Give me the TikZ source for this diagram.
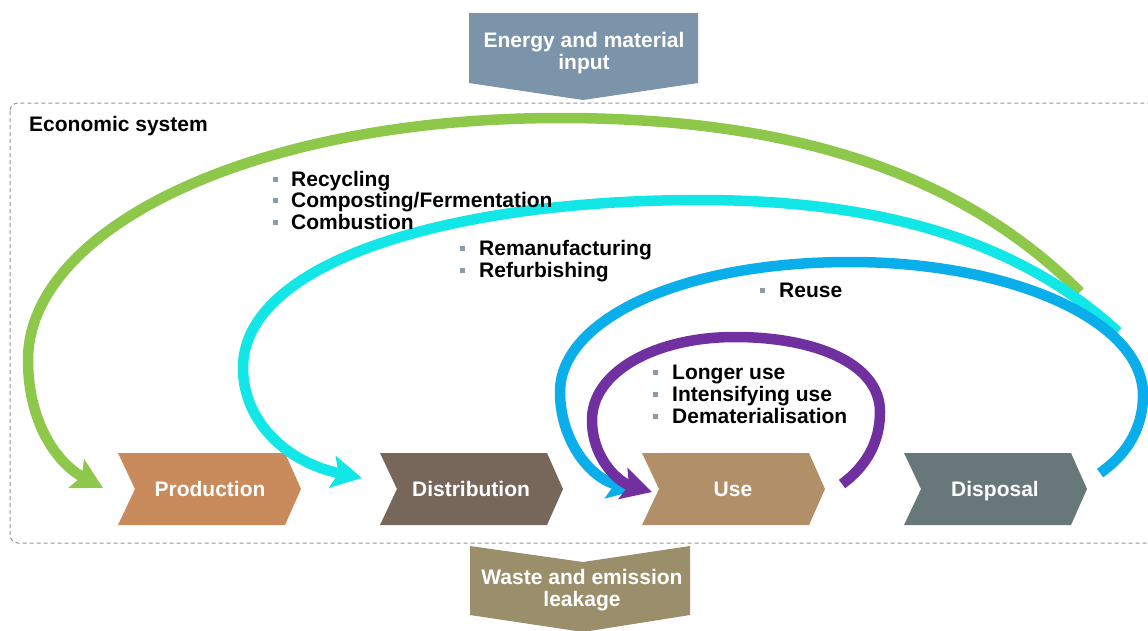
\documentclass[tikz,border=0pt]{standalone}
\usepackage{fontspec}
\setmainfont{Liberation Sans}
\usetikzlibrary{arrows.meta}
\definecolor{cgreen}{HTML}{8DC84A}
\definecolor{ccyan}{HTML}{13E6E6}
\definecolor{cblue}{HTML}{0AAEEA}
\definecolor{cpurple}{HTML}{7130A0}
\definecolor{cprod}{HTML}{C98A5C}
\definecolor{cdist}{HTML}{77665A}
\definecolor{cuse}{HTML}{B18F69}
\definecolor{cdisp}{HTML}{67777A}
\definecolor{cenergy}{HTML}{7C94A9}
\definecolor{cwaste}{HTML}{9B8F6B}
\definecolor{cbullet}{HTML}{8A9BAE}
\definecolor{cdash}{HTML}{8C96A0}
\tikzset{
  lbl/.style={font=\fontsize{21}{22}\selectfont\bfseries, text=white, align=center, inner sep=0pt},
  chl/.style={font=\fontsize{21}{22}\selectfont\bfseries, text=white, anchor=base, inner sep=0pt},
  item/.style={font=\fontsize{21}{22}\selectfont\bfseries, text=black, anchor=base west, inner sep=0pt},
  bul/.style={fill=cbullet, minimum size=5pt, inner sep=0pt},
  loop/.style={line width=10.5pt},
  head/.style={-{Stealth[length=30pt,width=32pt,inset=6pt]}},
}
\newcommand{\chev}[2]{% left x, colour
  \fill[#2] (#1,453) -- (#1+167,453) -- (#1+183,489) -- (#1+167,525) -- (#1,525) -- (#1+17,489) -- cycle;
}
\begin{document}
\begin{tikzpicture}[x=1pt,y=-1pt]
\useasboundingbox (0,0) rectangle (1148,630);
% economic system box
\draw[cdash, dash pattern=on 4pt off 3pt, line width=1pt, rounded corners=8pt] (10,103) rectangle (1165,543);
\node[item] (econ) at (29,131.5) {Economic system};
% input / output arrows
\fill[cenergy] (469,13) -- (698,13) -- (698,83) -- (583,100) -- (469,83) -- cycle;
\node[lbl] (energy) at (584,53) {Energy and material\\input};
\fill[cwaste] (470,546) -- (583,562) -- (690,546) -- (690,615) -- (583,632) -- (470,615) -- cycle;
\node[lbl] (waste) at (582,590) {Waste and emission\\leakage};
% chevrons
\chev{118}{cprod}
\chev{380}{cdist}
\chev{642}{cuse}
\chev{904}{cdisp}
\node[chl] (prod) at (210,496.5) {Production};
\node[chl] (dist) at (471,496.5) {Distribution};
\node[chl] (use) at (733,496.5) {Use};
\node[chl] (disp) at (995,496.5) {Disposal};
% loops
\coordinate (gS) at (1080,292);
\coordinate (gE) at (103,488);
\draw[loop, cgreen, head] (gS) .. controls (960,172) and (790,118) .. (560,118)
   .. controls (250,118) and (28,230) .. (28,360)
   .. controls (28,420) and (55,462) .. (gE);
\coordinate (cS) at (1118,332);
\coordinate (cE) at (362,478);
\draw[loop, ccyan, head] (cS) .. controls (1010,232) and (860,200) .. (700,200)
   .. controls (450,200) and (243,262) .. (243,368)
   .. controls (243,420) and (285,462) .. (cE);
\coordinate (bS) at (1100,473);
\coordinate (bE) at (638,490);
\draw[loop, cblue, head] (bS) .. controls (1130,452) and (1143,425) .. (1143,395)
   .. controls (1143,320) and (1010,262) .. (850,262)
   .. controls (680,262) and (560,320) .. (560,392)
   .. controls (560,440) and (590,478) .. (bE);
\coordinate (vS) at (842,484);
\coordinate (vE) at (652,492);
\draw[loop, cpurple, head] (vS) .. controls (868,465) and (880,440) .. (880,412)
   .. controls (880,362) and (812,337) .. (735,337)
   .. controls (655,337) and (592,372) .. (592,420)
   .. controls (592,458) and (618,482) .. (vE);
% lists
\node[bul] (b1) at (275,179) {};
\node[item] (t1) at (291,186.5) {Recycling};
\node[bul] (b2) at (275,200) {};
\node[item] (t2) at (291,207.5) {Composting/Fermentation};
\node[bul] (b3) at (275,222) {};
\node[item] (t3) at (291,229.5) {Combustion};
\node[bul] (b4) at (462,248) {};
\node[item] (t4) at (479,255.5) {Remanufacturing};
\node[bul] (b5) at (462,270) {};
\node[item] (t5) at (479,277.5) {Refurbishing};
\node[bul] (b6) at (762,290) {};
\node[item] (t6) at (779,297.5) {Reuse};
\node[bul] (b7) at (655,372) {};
\node[item] (t7) at (672,379.5) {Longer use};
\node[bul] (b8) at (655,394) {};
\node[item] (t8) at (672,401.5) {Intensifying use};
\node[bul] (b9) at (655,416) {};
\node[item] (t9) at (672,423.5) {Dematerialisation};
\end{tikzpicture}
\end{document}
